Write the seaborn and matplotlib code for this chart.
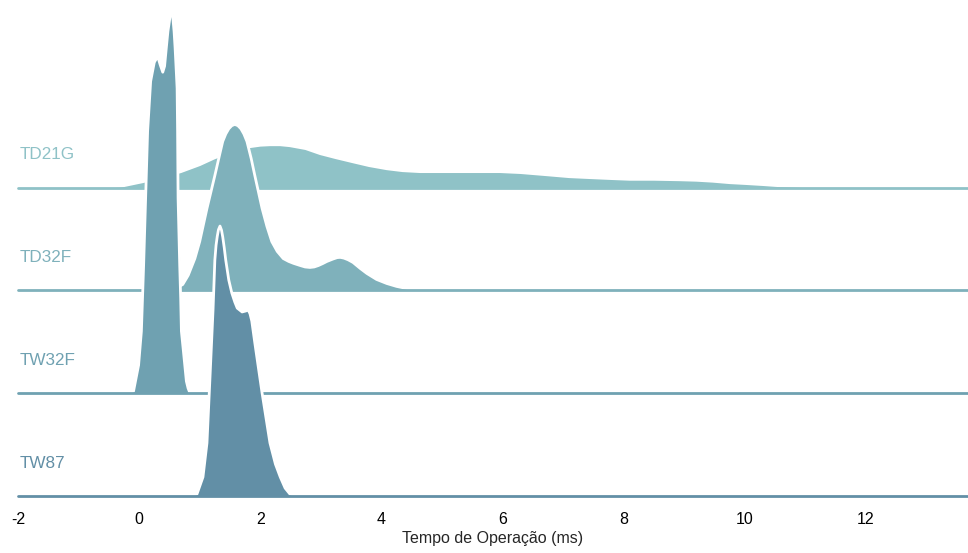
import numpy as np
import pandas as pd
import matplotlib
matplotlib.use("Agg")
import matplotlib.pyplot as plt
import seaborn as sns

# densidades (tempo em ms, densidade estimada)
turbinas = ["TD21G", "TD32F", "TW32F", "TW87"]
cores = ["#8fc2c7", "#7fb1bb", "#6fa1b1", "#628fa6"]

td21g_t = [-0.9, -0.6, -0.3, 0.06, 0.4, 0.69, 1.0, 1.25, 1.55, 1.83, 2.0, 2.16, 2.33,
           2.49, 2.75, 2.99, 3.25, 3.53, 3.8, 4.09, 4.35, 4.64, 5.3, 5.96, 6.3, 6.73,
           7.1, 7.44, 7.8, 8.1, 8.5, 8.93, 9.2, 9.47, 9.75, 10.04, 10.3, 10.58, 10.9,
           11.2, 11.6]
td21g_d = [0, .001, .006, .025, .046, .067, .096, .125, .150, .171, .177, .179, .179,
           .175, .163, .142, .125, .108, .092, .079, .071, .067, .067, .067, .063, .054,
           .046, .042, .038, .035, .035, .033, .031, .027, .021, .017, .013, .008, .005,
           .002, 0]

td32f_t = [0.45, 0.6, 0.72, 0.81, 0.92, 1.0, 1.12, 1.25, 1.33, 1.38, 1.43, 1.48, 1.53,
           1.58, 1.63, 1.68, 1.73, 1.78, 1.85, 1.91, 2.03, 2.11, 2.19, 2.28, 2.38, 2.47,
           2.55, 2.66, 2.74, 2.82, 2.89, 2.96, 3.03, 3.1, 3.2, 3.27, 3.32, 3.38, 3.45,
           3.53, 3.65, 3.76, 3.92, 4.09, 4.25, 4.42, 4.7]
td32f_d = [0, .008, .025, .063, .133, .204, .342, .479, .567, .621, .652, .674, .687,
           .692, .687, .674, .652, .621, .550, .479, .342, .267, .204, .163, .133, .121,
           .113, .104, .098, .096, .098, .104, .112, .121, .131, .137, .138, .135, .128,
           .117, .092, .071, .046, .029, .017, .008, 0]

tw32f_t = [-0.2, -0.093, -0.009, 0.037, 0.074, 0.107, 0.14, 0.19, 0.25, 0.306, 0.35,
           0.39, 0.42, 0.448, 0.475, 0.505, 0.538, 0.577, 0.594, 0.615, 0.627, 0.635,
           0.643, 0.67, 0.686, 0.698, 0.726, 0.78, 0.808, 0.84]
tw32f_d = [0, .008, .117, .258, .533, .813, 1.092, 1.300, 1.379, 1.404, 1.367, 1.338,
           1.363, 1.438, 1.508, 1.560, 1.617, 1.508, 1.438, 1.333, 1.271, 1.092, .813,
           .533, .396, .258, .188, .050, .021, 0]

tw87_t = [0.85, 0.955, 1.054, 1.12, 1.17, 1.22, 1.25, 1.27, 1.29, 1.31, 1.335, 1.36,
          1.38, 1.405, 1.43, 1.48, 1.53, 1.58, 1.62, 1.70, 1.76, 1.80, 1.83, 1.86, 1.91,
          1.97, 2.03, 2.10, 2.16, 2.25, 2.33, 2.41, 2.49, 2.6]
tw87_d = [0, .008, .079, .221, .496, .775, .983, 1.045, 1.082, 1.110, 1.125, 1.108,
          1.080, 1.035, .983, .900, .846, .808, .783, .767, .771, .775, .760, .729, .638,
          .533, .429, .317, .221, .133, .079, .033, .008, 0]

xticks = [-2, 0, 2, 4, 6, 8, 10, 12]

frames = []
for nome, t, d in zip(turbinas, [td21g_t, td32f_t, tw32f_t, tw87_t],
                      [td21g_d, td32f_d, tw32f_d, tw87_d]):
    frames.append(pd.DataFrame({"turbina": nome, "tempo": t, "densidade": d}))
df = pd.concat(frames, ignore_index=True)

sns.set_theme(style="white", rc={"axes.facecolor": (0, 0, 0, 0)})
plt.rcParams["font.family"] = ["Liberation Sans", "DejaVu Sans"]
plt.rcParams["axes.unicode_minus"] = False

g = sns.FacetGrid(df, row="turbina", hue="turbina", row_order=turbinas,
                  hue_order=turbinas, palette=cores, aspect=7, height=1.4)

g.map(plt.fill_between, "tempo", "densidade", alpha=1, linewidth=0, clip_on=False)
g.map(plt.plot, "tempo", "densidade", color="w", lw=2, clip_on=False)
g.refline(y=0, linewidth=2, linestyle="-", color=None, clip_on=False)


def rotulo(x, color, label):
    ax = plt.gca()
    ax.text(0.002, .24, label, color=color, fontsize=12.3, ha="left", va="center",
            transform=ax.transAxes)


g.map(rotulo, "tempo")

g.set_titles("")
g.set(yticks=[], ylabel="", xlim=(-2, 13.685), ylim=(0, 0.571), xticks=xticks)
g.set_xticklabels([str(v) for v in xticks])
g.despine(bottom=True, left=True)
g.set_axis_labels("Tempo de Operação (ms)", "")
for ax in g.axes.flat:
    ax.tick_params(axis="x", length=0, pad=11.7, labelsize=11.5, colors="black")
    ax.xaxis.label.set_size(11.5)
g.axes.flat[-1].xaxis.labelpad = 3

g.figure.set_size_inches(9.68, 5.53)
g.figure.subplots_adjust(left=18 / 968, right=1.0, bottom=0.1031, top=0.9083, hspace=-.25)
g.figure.savefig("out.png", dpi=100)
